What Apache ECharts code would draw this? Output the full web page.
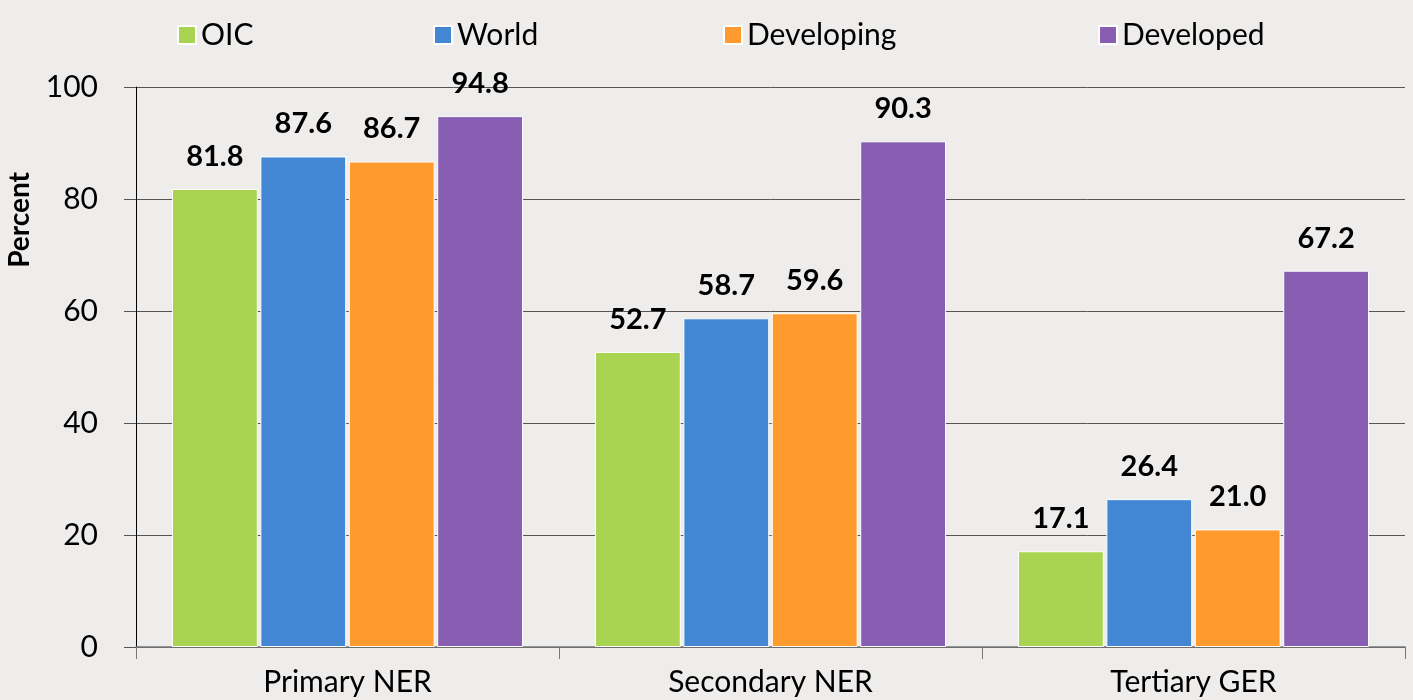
<!DOCTYPE html>
<html>
<head>
<meta charset="utf-8">
<script src="https://cdn.jsdelivr.net/npm/echarts@6/dist/echarts.min.js"></script>
<style>
  html, body { margin: 0; padding: 0; background: #efedec; }
  #chart { width: 1413px; height: 700px; }
</style>
</head>
<body>
<div id="chart"></div>
<script>
// data
const categories = ['Primary NER', 'Secondary NER', 'Tertiary GER'];
const oic = [81.8, 52.7, 17.1];
const world = [87.6, 58.7, 26.4];
const developing = [86.7, 59.6, 21.0];
const developed = [94.8, 90.3, 67.2];
const yTicks = [0, 20, 40, 60, 80, 100];

const colors = ['#a9d452', '#4286d4', '#ff9a2e', '#875eb2'];
const font = 'Lato, "Open Sans", sans-serif';

const chart = echarts.init(document.getElementById('chart'));

function bar(name, data, color) {
    return {
        name: name,
        type: 'bar',
        data: data,
        barGap: '3%',
        barCategoryGap: '17%',
        itemStyle: { color: color, borderColor: '#ffffff', borderWidth: 1 },
        label: {
            show: true,
            position: 'top',
            distance: 18,
            fontFamily: font,
            fontSize: 29,
            fontWeight: 'bold',
            color: '#000',
            formatter: (p) => p.value.toFixed(1)
        }
    };
}

const names = ['OIC', 'World', 'Developing', 'Developed'];
const legendX = [172, 428, 718, 1093];

chart.setOption({
    backgroundColor: '#efedec',
    animation: false,
    legend: names.map((n, i) => ({
        data: [n],
        left: legendX[i],
        top: 15,
        icon: 'rect',
        itemWidth: 18,
        itemHeight: 18,
        itemGap: 8,
        textStyle: { fontFamily: font, fontSize: 30, color: '#000' }
    })),
    grid: { left: 136, right: 8, top: 87, bottom: 53 },
    xAxis: {
        type: 'category',
        data: categories,
        axisLine: { lineStyle: { color: '#777', width: 1.5 } },
        axisTick: { show: true, length: 12, lineStyle: { color: '#777' } },
        axisLabel: { fontFamily: font, fontSize: 30, color: '#000', margin: 20 }
    },
    yAxis: {
        type: 'value',
        min: yTicks[0],
        max: yTicks[yTicks.length - 1],
        interval: 20,
        axisLine: { show: true, lineStyle: { color: '#000' } },
        axisTick: { show: true, length: 12, lineStyle: { color: '#555' } },
        axisLabel: { fontFamily: font, fontSize: 30, color: '#000', margin: 38 },
        splitLine: { lineStyle: { color: '#555', width: 1 } }
    },
    graphic: [{
        type: 'text',
        left: 6,
        top: 172,
        rotation: Math.PI / 2,
        style: {
            text: 'Percent',
            fontFamily: font,
            fontSize: 28,
            fontWeight: 'bold',
            fill: '#000'
        }
    }],
    series: [
        bar(names[0], oic, colors[0]),
        bar(names[1], world, colors[1]),
        bar(names[2], developing, colors[2]),
        bar(names[3], developed, colors[3])
    ]
});
</script>
</body>
</html>
